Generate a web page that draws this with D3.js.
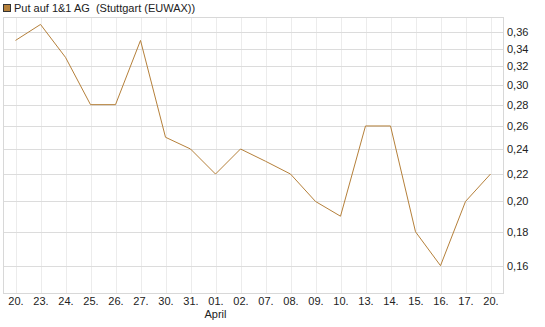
<!DOCTYPE html>
<html>
<head>
<meta charset="utf-8">
<script src="https://cdn.jsdelivr.net/npm/d3@7"></script>
<style>
  body { margin: 0; background: #fff; }
  svg { font-family: "Liberation Sans", Arial, sans-serif; }
</style>
</head>
<body>
<svg id="chart" width="545" height="327"></svg>
<script>
// data
const days = ["20.", "23.", "24.", "25.", "26.", "27.", "30.", "31.", "01.", "02.",
              "07.", "08.", "09.", "10.", "13.", "14.", "15.", "16.", "17.", "20."];
const prices = [0.35, 0.37, 0.33, 0.28, 0.28, 0.35, 0.25, 0.24, 0.22, 0.24,
                0.23, 0.22, 0.20, 0.19, 0.26, 0.26, 0.18, 0.16, 0.20, 0.22];
const yTicks = [0.16, 0.18, 0.20, 0.22, 0.24, 0.26, 0.28, 0.30, 0.32, 0.34, 0.36];
const monthLabels = [{ index: 8, text: "April" }];
const title = "Put auf 1&1 AG  (Stuttgart (EUWAX))";

const lineColor = "#b5803a";
const plot = { left: 3, right: 503, top: 17, bottom: 293 };

const svg = d3.select("#chart");

// x: one slot per trading day
const x = d3.scalePoint()
  .domain(d3.range(days.length))
  .range([plot.left, plot.right])
  .padding(0.5);

// y is logarithmic
const y = d3.scaleLog()
  .domain([0.1455, 0.3797])
  .range([plot.bottom, plot.top]);

// vertical grid
svg.append("g")
  .selectAll("line")
  .data(d3.range(days.length))
  .join("line")
  .attr("x1", i => Math.round(x(i)) + 0.5)
  .attr("x2", i => Math.round(x(i)) + 0.5)
  .attr("y1", plot.top)
  .attr("y2", plot.bottom)
  .attr("stroke", "#ececec");

// horizontal grid
svg.append("g")
  .selectAll("line")
  .data(yTicks)
  .join("line")
  .attr("x1", plot.left)
  .attr("x2", plot.right)
  .attr("y1", d => Math.round(y(d)) + 0.5)
  .attr("y2", d => Math.round(y(d)) + 0.5)
  .attr("stroke", "#dcdcdc");

// frame
svg.append("rect")
  .attr("x", plot.left + 0.5)
  .attr("y", plot.top + 0.5)
  .attr("width", plot.right - plot.left)
  .attr("height", plot.bottom - plot.top)
  .attr("fill", "none")
  .attr("stroke", "#d8d8d8");

// y axis on the right
const yAxis = d3.axisRight(y)
  .tickValues(yTicks)
  .tickSize(0)
  .tickPadding(4)
  .tickFormat(d => d.toFixed(2).replace(".", ","));

svg.append("g")
  .attr("transform", `translate(${plot.right},0)`)
  .call(yAxis)
  .call(g => g.select(".domain").remove())
  .selectAll("text")
  .attr("font-size", 11)
  .attr("fill", "#222");

// x axis
const xAxis = d3.axisBottom(x)
  .tickSize(0)
  .tickPadding(4)
  .tickFormat(i => days[i]);

svg.append("g")
  .attr("transform", `translate(0,${plot.bottom})`)
  .call(xAxis)
  .call(g => g.select(".domain").remove())
  .selectAll("text")
  .attr("font-size", 11)
  .attr("fill", "#222");

// month names under the axis
svg.append("g")
  .selectAll("text")
  .data(monthLabels)
  .join("text")
  .attr("x", d => x(d.index))
  .attr("y", 318)
  .attr("text-anchor", "middle")
  .attr("font-size", 11)
  .attr("fill", "#222")
  .text(d => d.text);

// price line
const line = d3.line()
  .x((d, i) => x(i))
  .y(d => y(d));

svg.append("path")
  .datum(prices)
  .attr("d", line)
  .attr("fill", "none")
  .attr("stroke", lineColor)
  .attr("stroke-width", 1);

// legend
svg.append("rect")
  .attr("x", 3.5)
  .attr("y", 4.5)
  .attr("width", 7)
  .attr("height", 7)
  .attr("fill", lineColor)
  .attr("stroke", "#333");

svg.append("text")
  .attr("x", 14)
  .attr("y", 12)
  .attr("font-size", 11)
  .attr("fill", "#222")
  .attr("xml:space", "preserve")
  .style("white-space", "pre")
  .text(title);
</script>
</body>
</html>
